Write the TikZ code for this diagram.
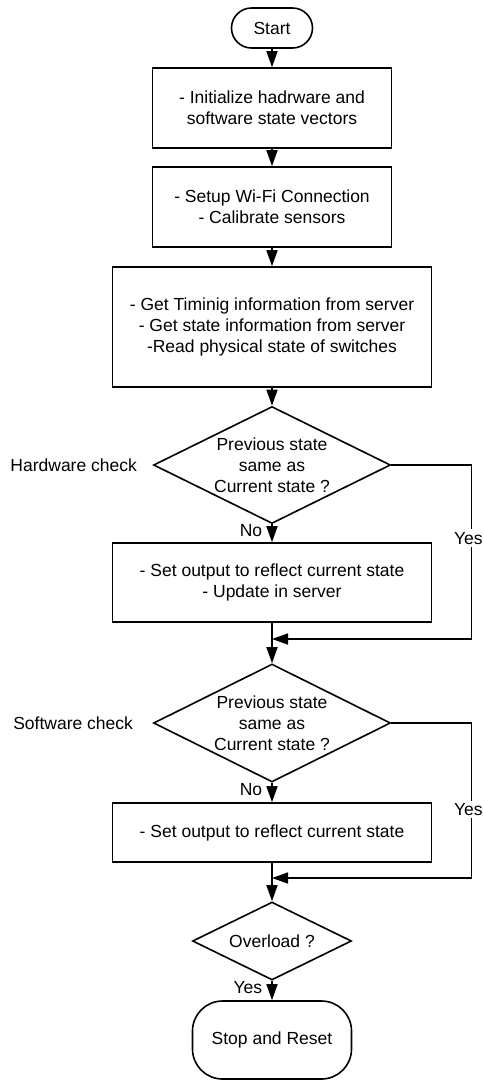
\documentclass[tikz,border=0pt]{standalone}
\usepackage{fontspec}
\setmainfont{Liberation Sans}
\usetikzlibrary{arrows.meta,shapes.geometric,positioning}

\begin{document}
\begin{tikzpicture}[x=1pt,y=-1pt,line width=1.6pt,
	font=\fontsize{17.5}{21}\selectfont]
	\useasboundingbox (0,0) rectangle (483,1080);
	\begin{scope}[every node/.style={draw,align=center,minimum width=239pt}]
		\node[rounded corners=20pt,minimum width=81pt,minimum height=40pt] (start) at (272,28) {Start};
		\node[minimum height=80pt] (init) at (272,108) {- Initialize hadrware and\\software state vectors};
		\node[minimum height=80pt] (setup) at (272,207) {- Setup Wi-Fi Connection\\- Calibrate sensors};
		\node[minimum width=319pt,minimum height=120pt] (fetch) at (272,327) {- Get Timinig information from server\\- Get state information from server\\-Read physical state of switches};
		\node[diamond,aspect=2,inner sep=0pt,minimum width=237pt,minimum height=117pt] (hw) at (272,465) {Previous state\\same as\\Current state ?};
		\node[minimum width=319pt,minimum height=79pt] (hwout) at (272,582.5) {- Set output to reflect current state\\- Update in server};
		\node[diamond,aspect=2,inner sep=0pt,minimum width=237pt,minimum height=118pt] (sw) at (272,723) {Previous state\\same as\\Current state ?};
		\node[minimum width=319pt,minimum height=59pt] (swout) at (272,832.5) {- Set output to reflect current state};
		\node[diamond,aspect=2,inner sep=0pt,minimum width=159pt,minimum height=78pt] (ovl) at (272,941) {Overload ?};
		\node[rounded corners=30pt,minimum width=159pt,minimum height=78pt] (stop) at (272,1040) {Stop and Reset};
	\end{scope}

	\begin{scope}[every node/.style={inner sep=2pt}]
		\node[left=13pt of hw.west] (hwlabel) {Hardware check};
		\node[left=17pt of sw.west] (swlabel) {Software check};
	\end{scope}

	\coordinate (hwjoin) at (272,639);
	\coordinate (swjoin) at (272,878);

	\begin{scope}[>={Triangle[length=16pt,width=11pt]},
		every edge/.style={draw,->}]
		\path (start) edge (init);
		\path (init) edge (setup);
		\path (setup) edge (fetch);
		\path (fetch) edge (hw);
		\path (hw) edge node[pos=0.35,left=8pt,inner sep=1pt] {No} (hwout);
		\path (hwout) edge (sw);
		\path (sw) edge node[pos=0.35,left=8pt,inner sep=1pt] {No} (swout);
		\path (swout) edge (ovl);
		\path (ovl) edge node[pos=0.35,left=8pt,inner sep=1pt] {Yes} (stop);
		\draw[->] (hw.east) -- ++(80,0) |- node[pos=0.21,xshift=-3pt,fill=white,inner sep=2.5pt] {Yes} (hwjoin);
		\draw[->] (sw.east) -- ++(80,0) |- node[pos=0.28,xshift=-3pt,fill=white,inner sep=2.5pt] {Yes} (swjoin);
	\end{scope}
\end{tikzpicture}
\end{document}
